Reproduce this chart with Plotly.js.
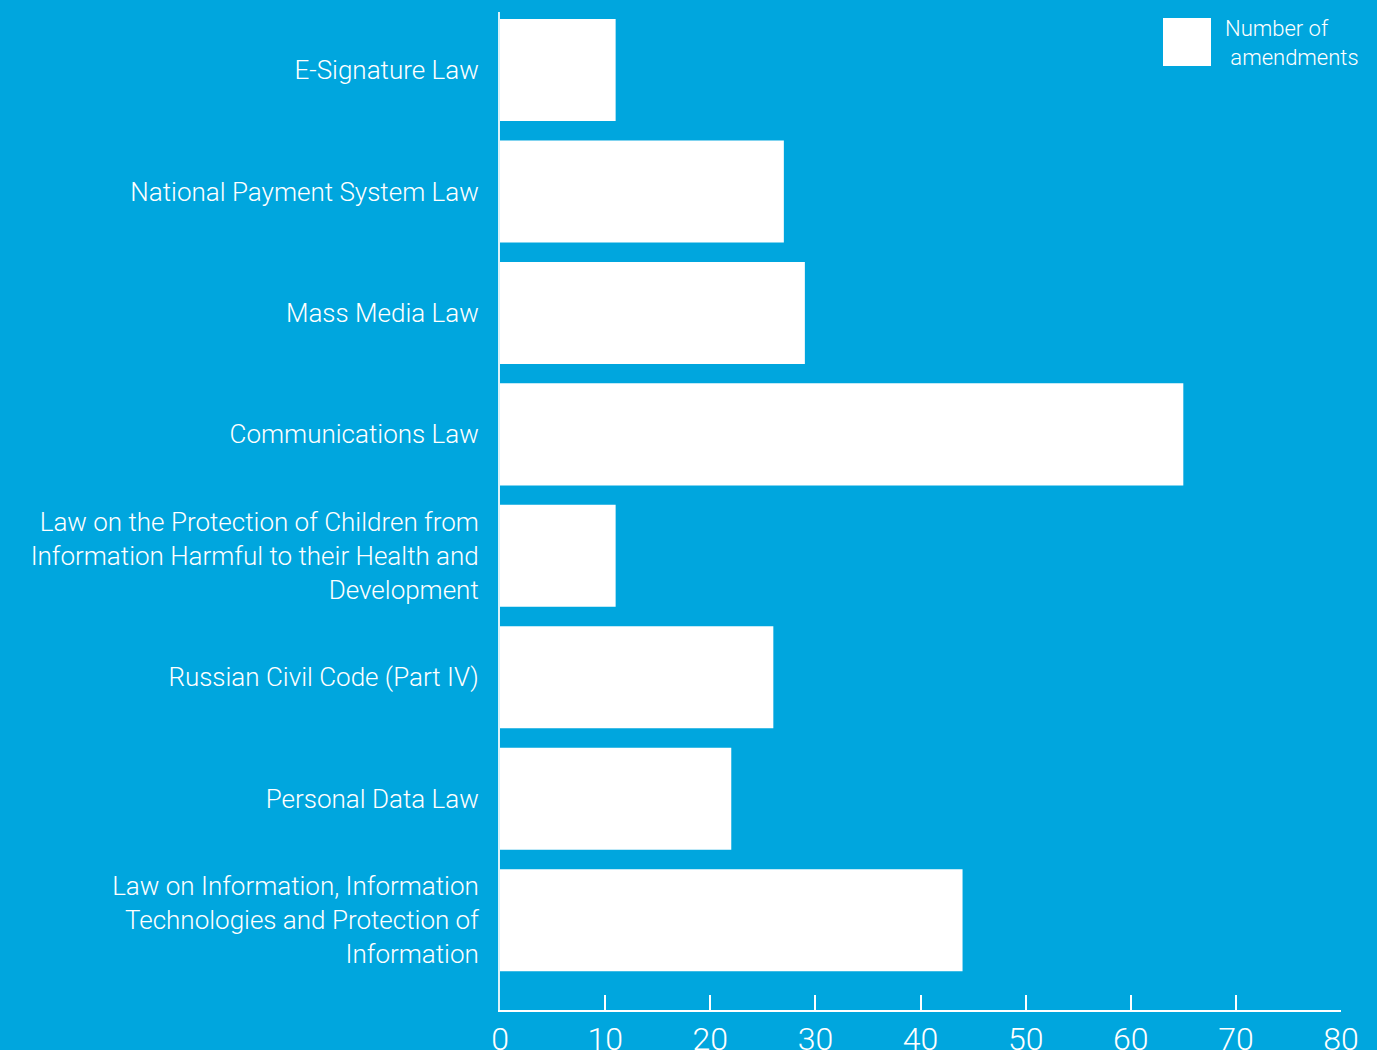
<!DOCTYPE html>
<html>
<head>
<meta charset="utf-8">
<script src="https://cdn.plot.ly/plotly-3.0.1.min.js"></script>
<style>html,body{margin:0;padding:0;background:#00A6DE;}#chart{width:1377px;height:1050px;}</style>
</head>
<body>
<div id="chart"></div>
<script>
const categories = [
  "E-Signature Law",
  "National Payment System Law",
  "Mass Media Law",
  "Communications Law",
  "Law on the Protection of Children from<br>Information Harmful to their Health and<br>Development",
  "Russian Civil Code (Part IV)",
  "Personal Data Law",
  "Law on Information, Information<br>Technologies and Protection of<br>Information"
];
const amendments = [11, 27, 29, 65, 11, 26, 22, 44];
const seriesName = "Number of<br> amendments";
const xTicks = [0, 10, 20, 30, 40, 50, 60, 70, 80];

const bg = "#00A6DE";
const fontFam = "Roboto, 'Open Sans', sans-serif";

const trace = {
  type: "bar",
  orientation: "h",
  y: categories,
  x: amendments,
  name: seriesName,
  marker: {color: "#FFFFFF", line: {width: 0}},
  showlegend: false,
  hoverinfo: "x+y"
};

const layout = {
  width: 1377,
  height: 1050,
  paper_bgcolor: bg,
  plot_bgcolor: bg,
  margin: {l: 500, r: 36, t: 12, b: 40, pad: 0},
  bargap: 0.16,
  font: {family: fontFam, color: "#FFFFFF", weight: 300},
  xaxis: {
    range: [0, 80],
    tickvals: xTicks,
    ticktext: xTicks.map(String),
    ticks: "inside",
    ticklen: 15,
    tickwidth: 2,
    tickcolor: "#FFFFFF",
    showline: true,
    linecolor: "#FFFFFF",
    linewidth: 2,
    showgrid: false,
    zeroline: false,
    tickfont: {size: 32, color: "#FFFFFF", family: fontFam, weight: 300},
    fixedrange: true
  },
  yaxis: {
    type: "category",
    categoryorder: "array",
    categoryarray: categories,
    range: [7.74, -0.478],
    showline: true,
    linecolor: "rgba(255,255,255,0.85)",
    linewidth: 2,
    showgrid: false,
    zeroline: false,
    ticks: "",
    ticklabelstandoff: 14,
    tickfont: {size: 26, color: "#FFFFFF", family: fontFam, weight: 300},
    fixedrange: true
  },
  shapes: [{
    type: "rect", xref: "paper", yref: "paper",
    x0: (1163 - 500) / 841, x1: (1211 - 500) / 841,
    y0: (1010 - 66) / 998, y1: (1010 - 18) / 998,
    fillcolor: "#FFFFFF", line: {width: 0}
  }],
  annotations: [{
    xref: "paper", yref: "paper",
    x: (1223 - 500) / 841, y: (1010 - 43) / 998,
    xanchor: "left", yanchor: "middle",
    text: seriesName, showarrow: false, align: "left",
    font: {size: 22, color: "#FFFFFF", family: fontFam, weight: 300}
  }]
};

Plotly.newPlot("chart", [trace], layout, {displayModeBar: false, staticPlot: true});
</script>
</body>
</html>
